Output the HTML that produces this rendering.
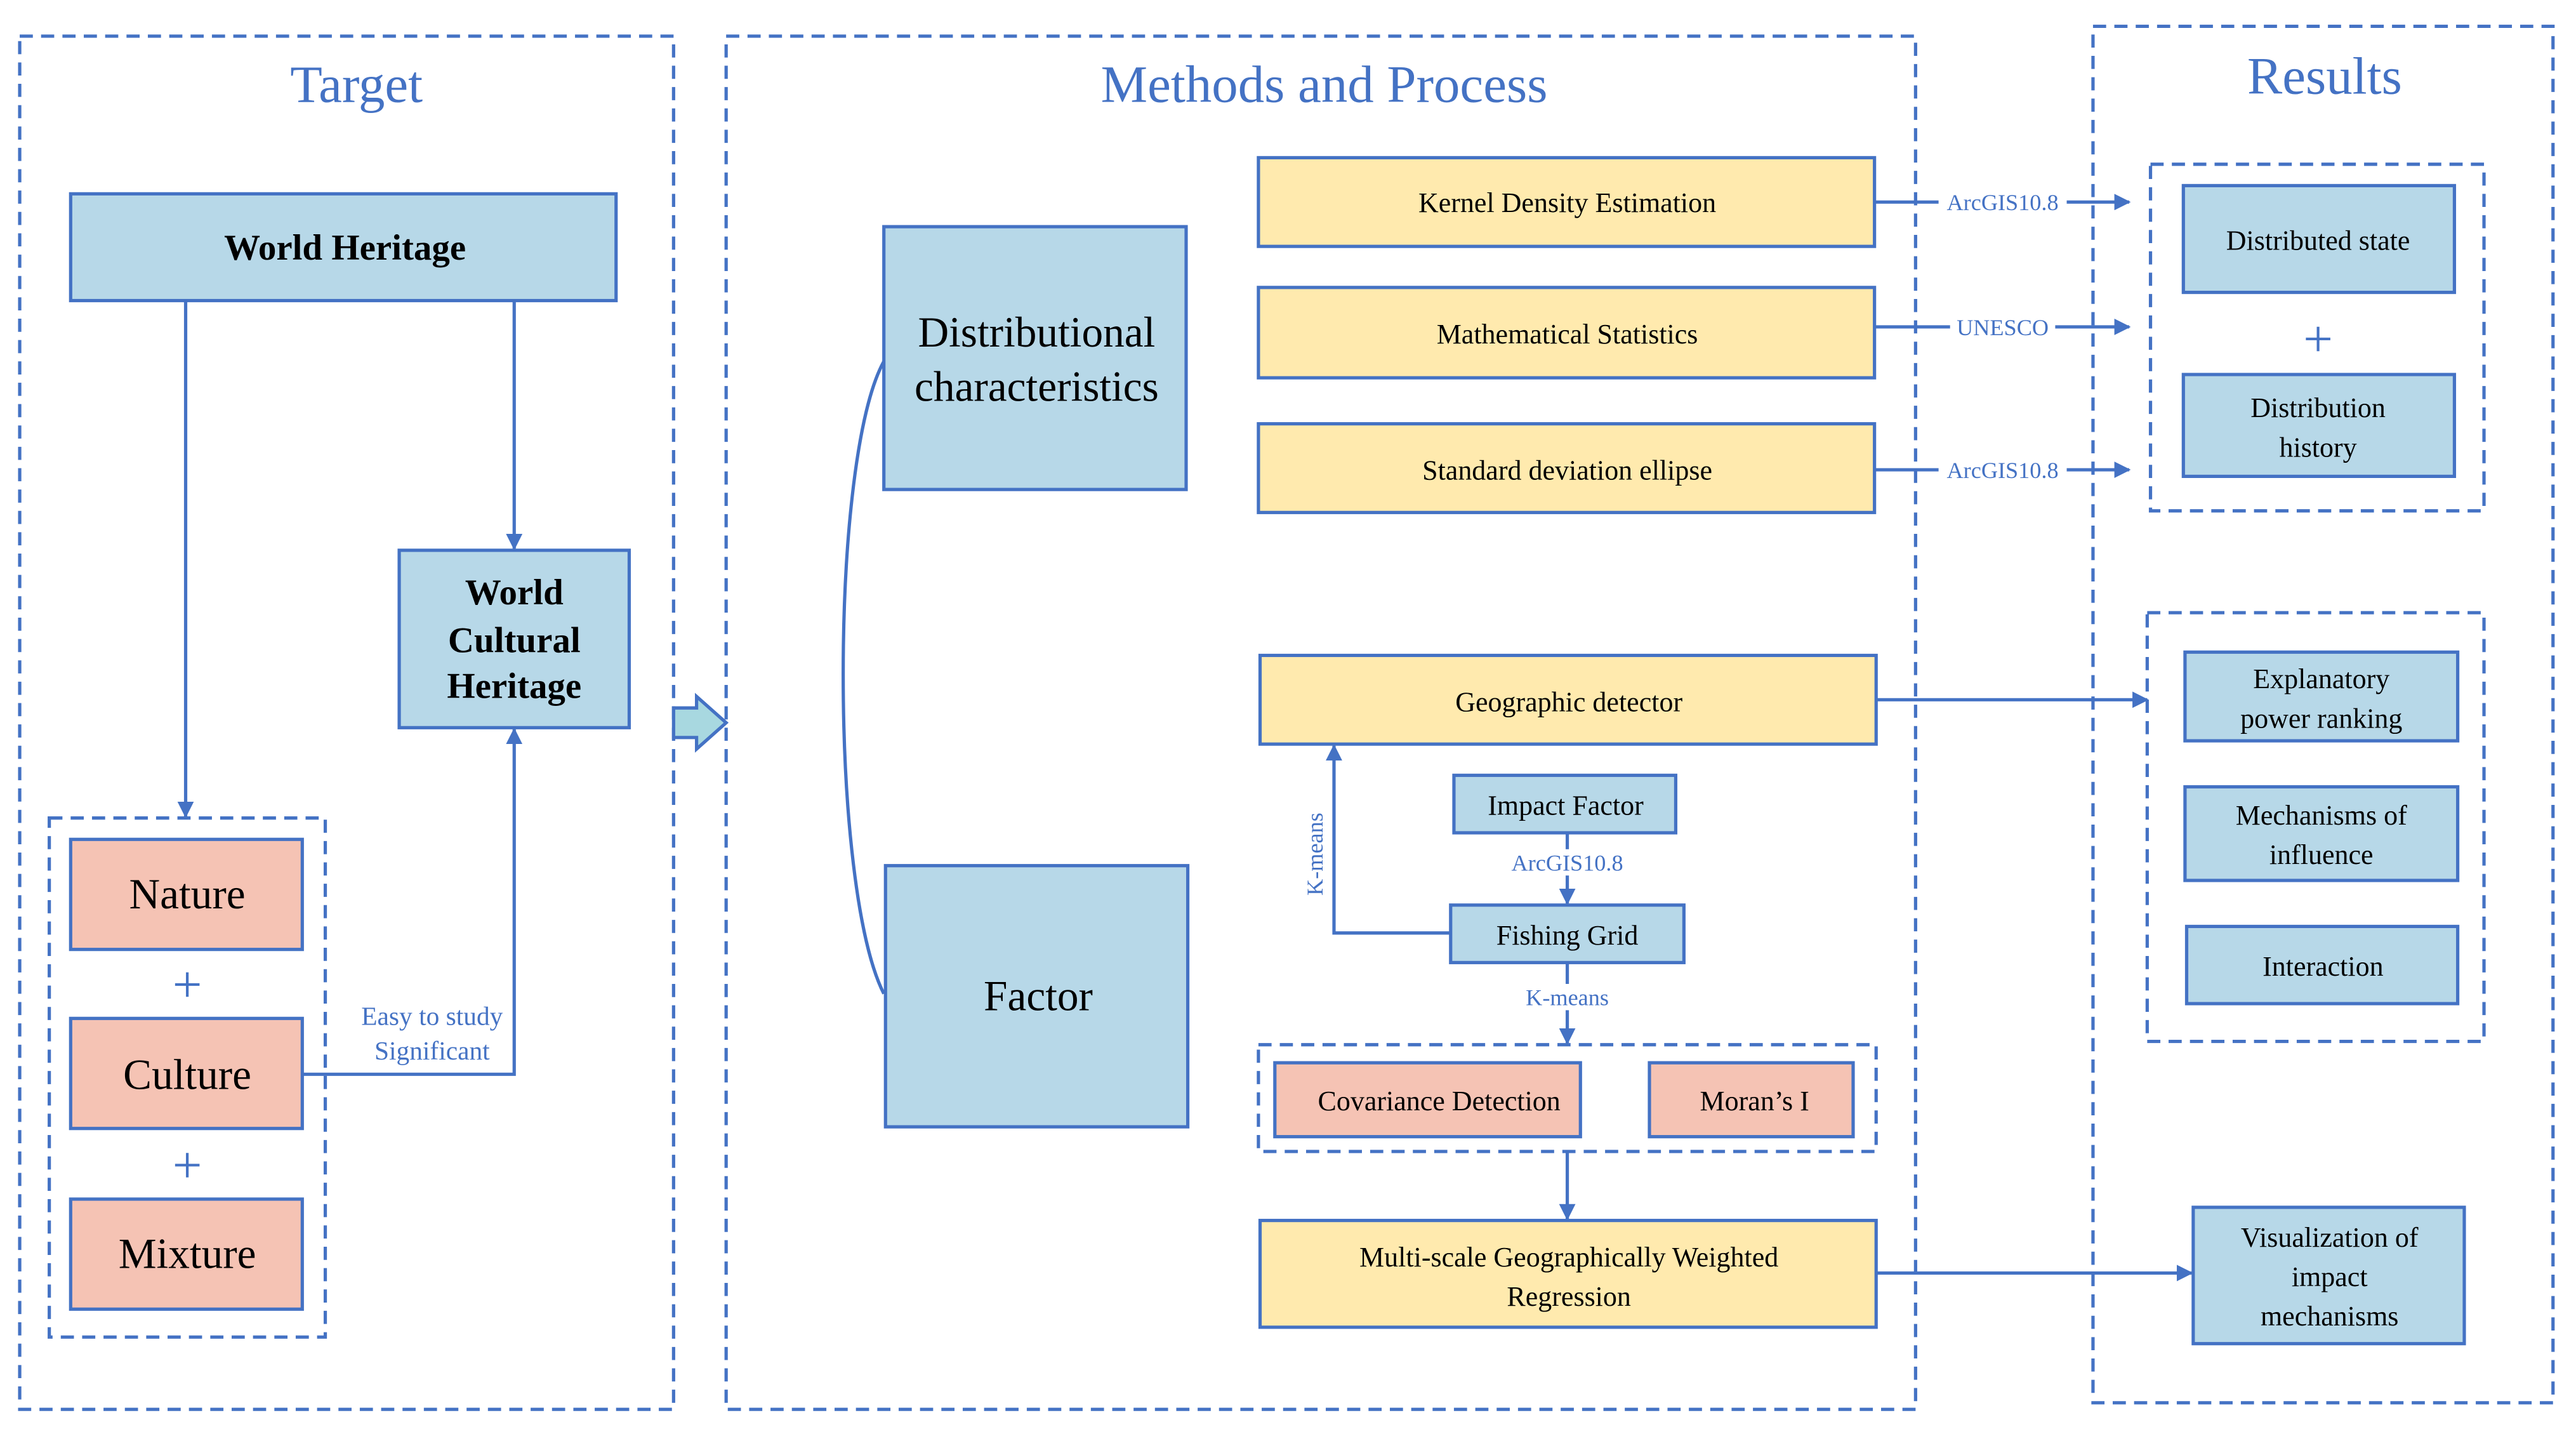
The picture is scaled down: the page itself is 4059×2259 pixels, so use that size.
<!DOCTYPE html>
<html><head><meta charset="utf-8"><style>html,body{margin:0;padding:0;background:#fff}svg{display:block}</style></head>
<body>
<svg width="4059" height="2259" viewBox="0 0 1568 873" preserveAspectRatio="none" xmlns="http://www.w3.org/2000/svg" font-family="Liberation Serif, serif">
<defs>
<marker id="a" markerWidth="10" markerHeight="10" refX="9" refY="5" orient="auto" markerUnits="userSpaceOnUse"><path d="M0,0 L10,5 L0,10 z" fill="#4472C4"/></marker>
</defs>
<g fill="none" stroke="#4472C4" stroke-width="2" stroke-dasharray="8,5">
<rect x="12" y="22" width="398" height="836"/>
<rect x="442" y="22" width="724" height="836"/>
<rect x="1274" y="16" width="280" height="838"/>
<rect x="30" y="498" width="168" height="316"/>
<rect x="1309" y="100" width="203" height="211"/>
<rect x="1307" y="373" width="205" height="261"/>
<rect x="766" y="636" width="376" height="65"/>
</g>
<g fill="#4472C4" text-anchor="middle" font-size="32">
<text x="217" y="62">Target</text>
<text x="806" y="62">Methods and Process</text>
<text x="1415" y="57">Results</text>
</g>
<g stroke="#4472C4" stroke-width="2">
<rect x="43" y="118" width="332" height="65" fill="#B7D8E8"/>
<rect x="243" y="335" width="140" height="108" fill="#B7D8E8"/>
<rect x="43" y="511" width="141" height="67" fill="#F5C3B4"/>
<rect x="43" y="620" width="141" height="67" fill="#F5C3B4"/>
<rect x="43" y="730" width="141" height="67" fill="#F5C3B4"/>
<rect x="538" y="138" width="184" height="160" fill="#B7D8E8"/>
<rect x="539" y="527" width="184" height="159" fill="#B7D8E8"/>
<rect x="766" y="96" width="375" height="54" fill="#FFEAAE"/>
<rect x="766" y="175" width="375" height="55" fill="#FFEAAE"/>
<rect x="766" y="258" width="375" height="54" fill="#FFEAAE"/>
<rect x="767" y="399" width="375" height="54" fill="#FFEAAE"/>
<rect x="767" y="743" width="375" height="65" fill="#FFEAAE"/>
<rect x="885" y="472" width="135" height="35" fill="#B7D8E8"/>
<rect x="883" y="551" width="142" height="35" fill="#B7D8E8"/>
<rect x="776" y="647" width="186" height="45" fill="#F5C3B4"/>
<rect x="1004" y="647" width="124" height="45" fill="#F5C3B4"/>
<rect x="1329" y="113" width="165" height="65" fill="#B7D8E8"/>
<rect x="1329" y="228" width="165" height="62" fill="#B7D8E8"/>
<rect x="1330" y="397" width="166" height="54" fill="#B7D8E8"/>
<rect x="1330" y="479" width="166" height="57" fill="#B7D8E8"/>
<rect x="1331" y="564" width="165" height="47" fill="#B7D8E8"/>
<rect x="1335" y="735" width="165" height="83" fill="#B7D8E8"/>
</g>
<g stroke="#4472C4" stroke-width="2" fill="none" marker-end="url(#a)">
<path d="M113,183 V497"/>
<path d="M313,183 V334"/>
<path d="M184,654 H313 V444"/>
<path d="M1141,123 H1296"/>
<path d="M1141,199 H1296"/>
<path d="M1141,286 H1296"/>
<path d="M1142,426 H1307"/>
<path d="M1142,775 H1334"/>
<path d="M954,507 V550"/>
<path d="M883,568 H812 V454"/>
<path d="M954,586 V635"/>
<path d="M954,701 V742"/>
</g>
<path d="M538,220 C505,280 505,540 538,605" fill="none" stroke="#4472C4" stroke-width="2"/>
<path d="M410,431 H424 V424 L442,440 L424,456 V449 H410 Z" fill="#A8D8E0" stroke="#4472C4" stroke-width="2"/>
<g fill="#fff">
<rect x="1180" y="115" width="78" height="16"/>
<rect x="1187" y="191" width="64" height="16"/>
<rect x="1180" y="278" width="78" height="16"/>
<rect x="914" y="517" width="80" height="16"/>
<rect x="922" y="599" width="64" height="16"/>
<rect x="792" y="485" width="16" height="70"/>
</g>
<g fill="#4472C4" font-size="14" text-anchor="middle">
<text x="1219" y="128">ArcGIS10.8</text>
<text x="1219" y="204">UNESCO</text>
<text x="1219" y="291">ArcGIS10.8</text>
<text x="954" y="530">ArcGIS10.8</text>
<text x="954" y="612">K-means</text>
<text transform="translate(805,520) rotate(-90)">K-means</text>
<text x="263" y="624" font-size="16">Easy to study</text>
<text x="263" y="645" font-size="16">Significant</text>
</g>
<g fill="#4472C4" font-size="32" text-anchor="middle">
<text x="114" y="610">+</text>
<text x="114" y="720">+</text>
<text x="1411" y="217">+</text>
</g>
<g fill="#000" text-anchor="middle">
<text x="210" y="158" font-size="22" font-weight="bold">World Heritage</text>
<text x="313" y="368" font-size="22" font-weight="bold">World</text>
<text x="313" y="397" font-size="22" font-weight="bold">Cultural</text>
<text x="313" y="425" font-size="22" font-weight="bold">Heritage</text>
<text x="114" y="553" font-size="26">Nature</text>
<text x="114" y="663" font-size="26">Culture</text>
<text x="114" y="772" font-size="26">Mixture</text>
<text x="631" y="211" font-size="26">Distributional</text>
<text x="631" y="244" font-size="26">characteristics</text>
<text x="632" y="615" font-size="26">Factor</text>
<g font-size="17">
<text x="954" y="129">Kernel Density Estimation</text>
<text x="954" y="209">Mathematical Statistics</text>
<text x="954" y="292">Standard deviation ellipse</text>
<text x="955" y="433">Geographic detector</text>
<text x="955" y="771">Multi-scale Geographically Weighted</text>
<text x="955" y="795">Regression</text>
<text x="953" y="496">Impact Factor</text>
<text x="954" y="575">Fishing Grid</text>
<text x="876" y="676">Covariance Detection</text>
<text x="1068" y="676">Moran’s I</text>
<text x="1411" y="152">Distributed state</text>
<text x="1411" y="254">Distribution</text>
<text x="1411" y="278">history</text>
<text x="1413" y="419">Explanatory</text>
<text x="1413" y="443">power ranking</text>
<text x="1413" y="502">Mechanisms of</text>
<text x="1413" y="526">influence</text>
<text x="1414" y="594">Interaction</text>
<text x="1418" y="759">Visualization of</text>
<text x="1418" y="783">impact</text>
<text x="1418" y="807">mechanisms</text>
</g>
</g>
</svg>
</body></html>
